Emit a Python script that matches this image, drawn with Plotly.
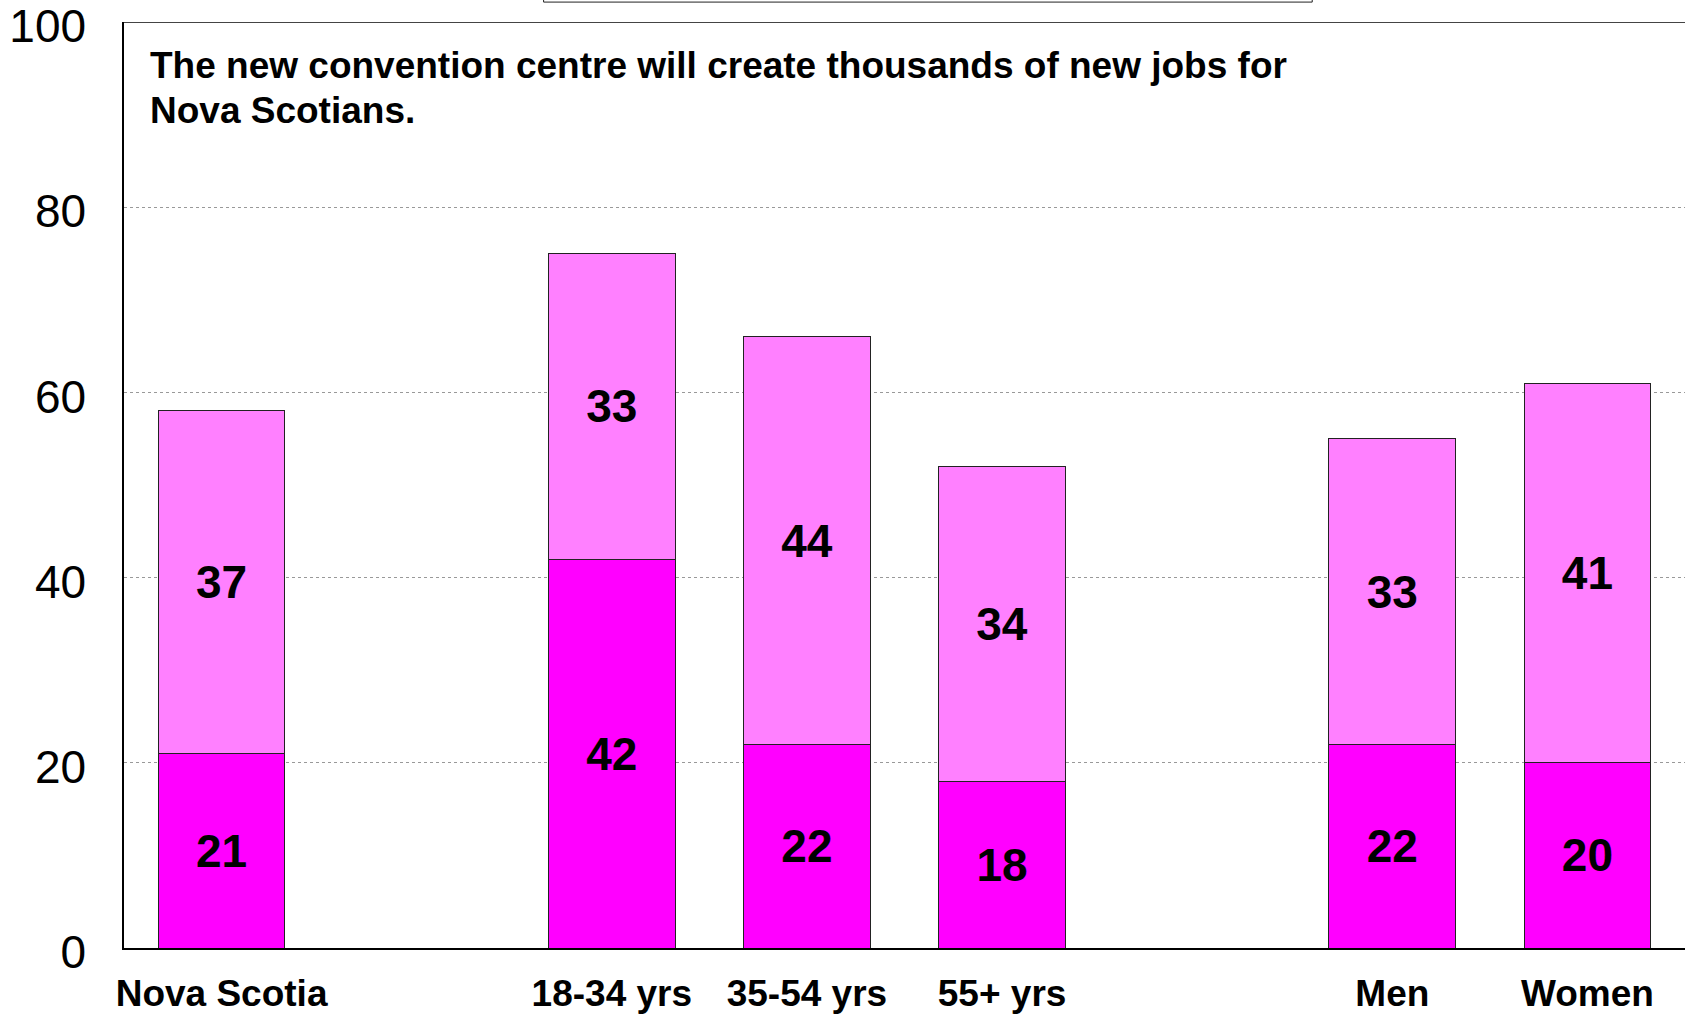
import plotly.graph_objects as go

categories = ["Nova Scotia", " ", "18-34 yrs", "35-54 yrs", "55+ yrs", "  ", "Men", "Women"]
bottom_vals = [21, None, 42, 22, 18, None, 22, 20]
top_vals = [37, None, 33, 44, 34, None, 33, 41]
y_ticks = [0, 20, 40, 60, 80, 100]
title_lines = ["The new convention centre will create thousands of new jobs for", "Nova Scotians."]

FONT = "Liberation Sans, Arial, sans-serif"

def labels(vals):
    return ["" if v is None else str(v) for v in vals]

fig = go.Figure()
fig.add_trace(go.Bar(
    x=categories, y=bottom_vals, text=labels(bottom_vals),
    marker=dict(color="#FF00FF", line=dict(color="#222222", width=1)),
    textposition="inside", insidetextanchor="middle",
    textfont=dict(family=FONT, size=46, color="black", weight="bold"),
    showlegend=False, hoverinfo="skip",
))
fig.add_trace(go.Bar(
    x=categories, y=top_vals, text=labels(top_vals),
    marker=dict(color="#FF80FF", line=dict(color="#222222", width=1)),
    textposition="inside", insidetextanchor="middle",
    textfont=dict(family=FONT, size=46, color="black", weight="bold"),
    showlegend=False, hoverinfo="skip",
))

fig.update_layout(
    barmode="stack", bargap=0.35,
    width=1685, height=1014,
    margin=dict(l=124, r=0, t=22, b=66),
    plot_bgcolor="white", paper_bgcolor="white",
    font=dict(family=FONT, color="black"),
    uniformtext=dict(minsize=10, mode="show"),
)
fig.update_xaxes(
    type="category", categoryorder="array", categoryarray=categories,
    range=[-0.5, 7.5], automargin=False,
    showline=True, linecolor="black", linewidth=2,
    showgrid=False, ticks="", ticklabelstandoff=12,
    tickfont=dict(family=FONT, size=37, color="black", weight="bold"),
)
fig.update_yaxes(
    range=[0, 100.01], tickvals=y_ticks, automargin=False,
    ticklabeloverflow="allow", ticklabelshift=4,
    showline=True, linecolor="black", linewidth=1.5,
    showgrid=True, gridcolor="#999999", gridwidth=1, griddash="dot",
    ticks="", ticklabelstandoff=27, zeroline=False,
    tickfont=dict(family=FONT, size=46, color="black"),
)

# top frame line
fig.add_shape(type="line", xref="paper", yref="y", x0=0, x1=1, y0=100, y1=100,
              line=dict(color="#444444", width=2))
# partially visible legend box at the top
fig.add_shape(type="rect", xref="paper", yref="paper", x0=0.2688, x1=0.7612, y0=1.0215, y1=1.1,
              line=dict(color="#222222", width=1), fillcolor="rgba(0,0,0,0)")

fig.add_annotation(text=title_lines[0], xref="paper", yref="paper", x=0.0152, y=0.9525,
                   xanchor="left", yanchor="middle", showarrow=False,
                   font=dict(family=FONT, size=37, color="black", weight="bold"))
fig.add_annotation(text=title_lines[1], xref="paper", yref="paper", x=0.0152, y=0.9043,
                   xanchor="left", yanchor="middle", showarrow=False,
                   font=dict(family=FONT, size=37, color="black", weight="bold"))

fig.write_html("out.html")
